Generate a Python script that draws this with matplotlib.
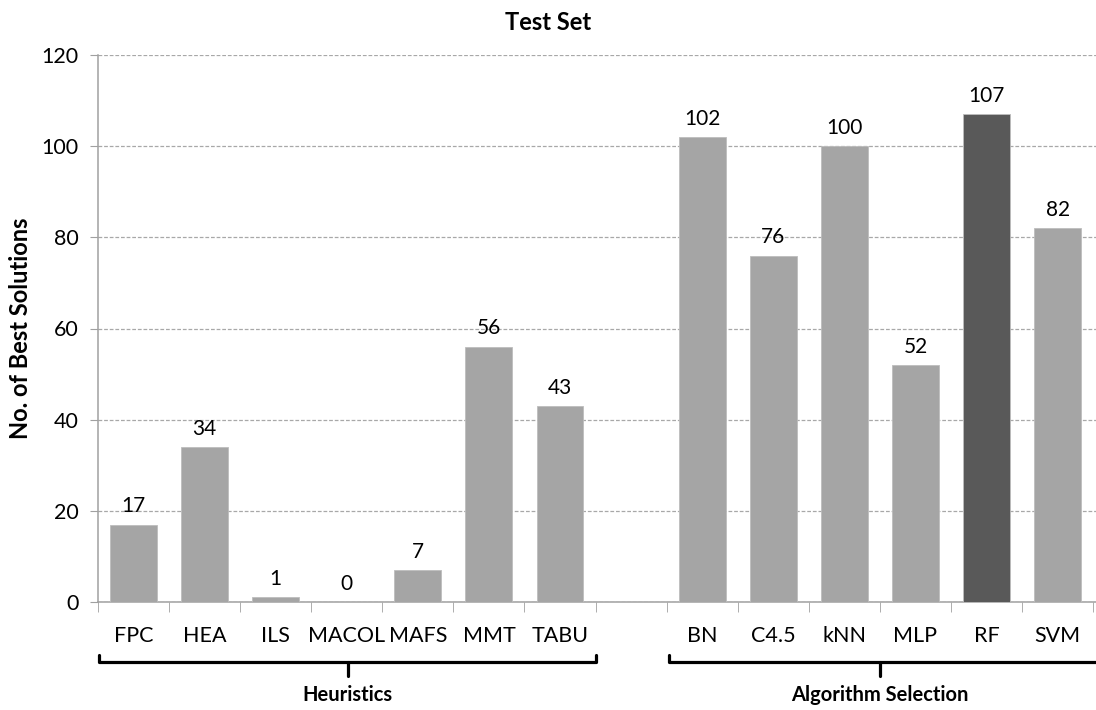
import numpy as np
import matplotlib.pyplot as plt
from matplotlib.transforms import blended_transform_factory

plt.rcParams['font.family'] = ['Lato', 'DejaVu Sans']

# Data
heuristics = ['FPC', 'HEA', 'ILS', 'MACOL', 'MAFS', 'MMT', 'TABU']
heur_vals = [17, 34, 1, 0, 7, 56, 43]
algsel = ['BN', 'C4.5', 'kNN', 'MLP', 'RF', 'SVM']
alg_vals = [102, 76, 100, 52, 107, 82]
highlight = 'RF'

light = '#a5a5a5'
dark = '#595959'
grey = '#a0a0a0'

fig = plt.figure(figsize=(10.96, 7.10), dpi=100)
ax = fig.add_axes([98 / 1096, 108 / 710, 1 - 98 / 1096, 547 / 710])

x_h = np.arange(len(heuristics))
x_a = np.arange(len(algsel)) + len(heuristics) + 1
labels = heuristics + algsel
xs = np.concatenate([x_h, x_a])
vals = heur_vals + alg_vals
colors = [dark if l == highlight else light for l in labels]

bars = ax.bar(xs, vals, width=0.66, color=colors, edgecolor='#bdbdbd', linewidth=0.6, zorder=3)
for x, v in zip(xs, vals):
    ax.annotate(str(v), (x, v), xytext=(0, 6), textcoords='offset points',
                ha='center', va='bottom', fontsize=15, color='black')

n_cat = len(heuristics) + 1 + len(algsel)
ax.set_xlim(-0.5, n_cat - 0.46)
ax.set_ylim(0, 120)
ax.set_yticks(range(0, 121, 20))
ax.tick_params(axis='y', labelsize=15.5, length=6, color=grey, pad=8)

ax.set_xticks(xs)
ax.set_xticklabels(labels, fontsize=15.5)
ax.set_xticks(np.arange(-0.5, n_cat, 1.0), minor=True)
ax.tick_params(axis='x', which='major', length=0, pad=17)
ax.tick_params(axis='x', which='minor', length=7, color=grey)

ax.yaxis.grid(True, linestyle=(0, (3, 1.5)), color='#a8a8a8', linewidth=0.9, zorder=0)
for s in ['top', 'right']:
    ax.spines[s].set_visible(False)
ax.spines['left'].set_color(grey)
ax.spines['bottom'].set_color(grey)
ax.spines['left'].set_linewidth(1.1)
ax.spines['bottom'].set_linewidth(1.1)

ax.set_ylabel('No. of Best Solutions', fontsize=17, fontweight='bold', labelpad=7)
fig.text(0.5, 0.968, 'Test Set', ha='center', va='center', fontsize=17, fontweight='bold')

# Braces under the groups
tr = blended_transform_factory(ax.transData, ax.transAxes)
def brace(x0, x1, text, xc=None):
    y, h = -0.11, 0.013
    if xc is None:
        xc = (x0 + x1) / 2
    ax.plot([x0, x0, x1, x1], [y + h, y, y, y + h], transform=tr, clip_on=False,
            color='black', lw=2.3, solid_joinstyle='round', solid_capstyle='round')
    ax.plot([xc, xc], [y, y - 2 * h], transform=tr, clip_on=False,
            color='black', lw=2.3, solid_capstyle='round')
    ax.text(xc, -0.17, text, transform=tr, ha='center', va='center',
            fontsize=14.5, fontweight='bold')

brace(-0.48, len(heuristics) - 0.5, 'Heuristics')
brace(x_a[0] - 0.47, x_a[-1] + 0.7, 'Algorithm Selection',
      xc=(x_a[0] + x_a[-1]) / 2)

fig.savefig('out.png', dpi=100)
